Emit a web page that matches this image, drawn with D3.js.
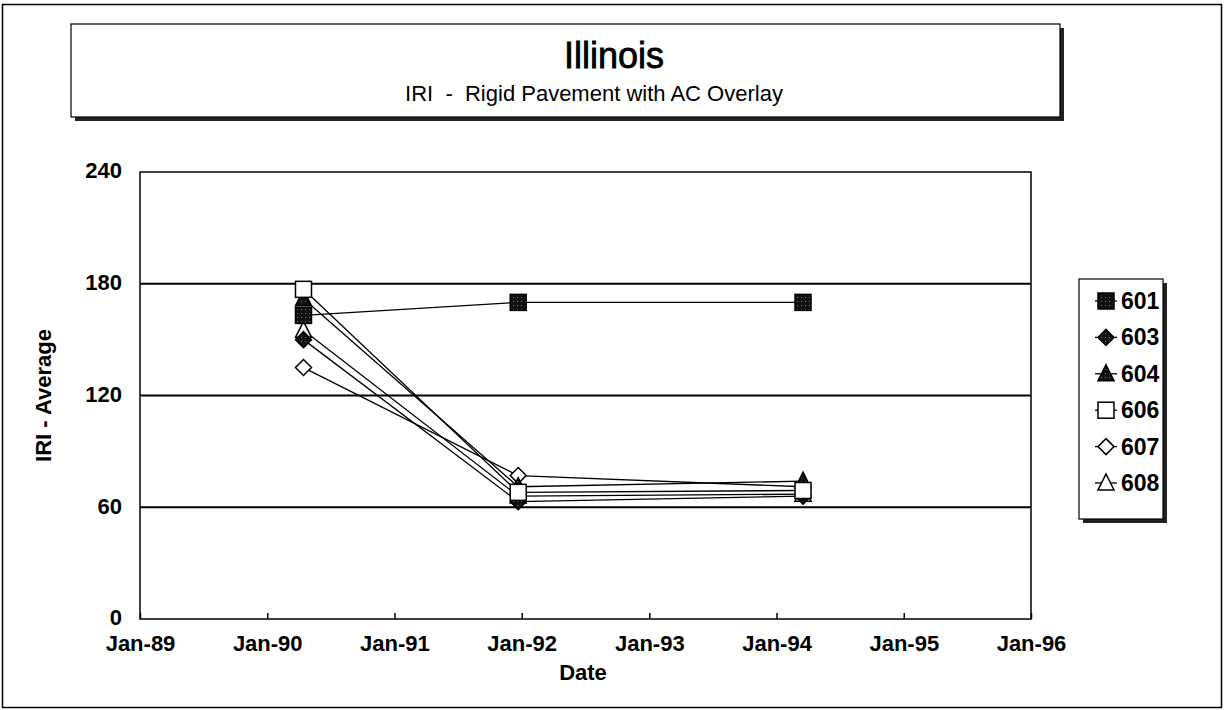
<!DOCTYPE html>
<html><head><meta charset="utf-8">
<script src="https://cdn.jsdelivr.net/npm/d3@7"></script>
<style>body{margin:0;background:#fff}svg{display:block;font-family:"Liberation Sans",Arial,sans-serif}</style>
</head><body><svg id="c" width="1224" height="710"></svg>
<script>
const title = "Illinois";
const subtitle = "IRI  -  Rigid Pavement with AC Overlay";
const xLabel = "Date";
const yLabel = "IRI - Average";
const dates = ["1990-04-15", "1991-12-22", "1994-03-18"];
const seriesNames = ["601", "603", "604", "606", "607", "608"];
const s601 = [163, 170, 170];
const s603 = [150, 63, 66];
const s604 = [172, 71, 74];
const s606 = [177, 68, 69];
const s607 = [135, 77, 71];
const s608 = [155, 66, 67];
const symbols = ["fsquare", "fdiamond", "ftriangle", "osquare", "odiamond", "otriangle"];
const yTicks = [0, 60, 120, 180, 240];
const xTicks = ["1989-01-01","1990-01-01","1991-01-01","1992-01-01","1993-01-01","1994-01-01","1995-01-01","1996-01-01"];

const seriesVals = [s601, s603, s604, s606, s607, s608];
const parse = d3.timeParse("%Y-%m-%d");
const svg = d3.select("#c");

const defs = svg.append("defs");
const pat = defs.append("pattern").attr("id","dots").attr("width",4).attr("height",4).attr("patternUnits","userSpaceOnUse");
pat.append("rect").attr("width",4).attr("height",4).attr("fill","#111");
pat.append("rect").attr("x",1).attr("y",1).attr("width",1).attr("height",1).attr("fill","#777");

svg.append("rect").attr("x",2.5).attr("y",4.5).attr("width",1219).attr("height",703)
  .attr("fill","none").attr("stroke","#000").attr("stroke-width",1.5);

const tb = {x:71, y:24, w:989, h:93};
svg.append("rect").attr("x",tb.x+4).attr("y",tb.y+4).attr("width",tb.w).attr("height",tb.h).attr("fill","#222");
svg.append("rect").attr("x",tb.x).attr("y",tb.y).attr("width",tb.w).attr("height",tb.h).attr("fill","#fff").attr("stroke","#000").attr("stroke-width",1.2);
svg.append("text").attr("x",614).attr("y",68).attr("text-anchor","middle").attr("font-size",36)
  .attr("stroke","#000").attr("stroke-width",0.8).text(title);
svg.append("text").attr("x",594).attr("y",101).attr("text-anchor","middle").attr("font-size",22).style("white-space","pre").text(subtitle);

const L=140, R=1031, T=172, B=619;
const x = d3.scaleTime().domain([parse(xTicks[0]), parse(xTicks[xTicks.length-1])]).range([L,R]);
const y = d3.scaleLinear().domain([0,240]).range([B,T]);

const g = svg.append("g");
g.selectAll("line.grid").data(yTicks.filter(v=>v>0 && v<240)).join("line")
  .attr("x1",L).attr("x2",R).attr("y1",d=>y(d)).attr("y2",d=>y(d)).attr("stroke","#000").attr("stroke-width",2);
g.append("rect").attr("x",L).attr("y",T).attr("width",R-L).attr("height",B-T).attr("fill","none").attr("stroke","#000").attr("stroke-width",1.5);

const xAxis = d3.axisBottom(x).tickValues(xTicks.map(parse)).tickFormat(d3.timeFormat("%b-%y")).tickSize(-6).tickPadding(16);
const xa = svg.append("g").attr("transform",`translate(0,${B})`).call(xAxis);
xa.select(".domain").remove();
xa.selectAll("line").attr("stroke","#000").attr("stroke-width",1.5);
xa.selectAll("text").attr("font-size",22).attr("font-weight","bold").attr("fill","#000").attr("font-family","Liberation Sans, Arial, sans-serif");
const yAxis = d3.axisLeft(y).tickValues(yTicks).tickSize(0).tickPadding(18);
const ya = svg.append("g").attr("transform",`translate(${L},0)`).call(yAxis);
ya.select(".domain").remove();
ya.selectAll("text").attr("font-size",22).attr("font-weight","bold").attr("fill","#000").attr("dy","0.27em").attr("font-family","Liberation Sans, Arial, sans-serif");

svg.append("text").attr("x",583).attr("y",680).attr("text-anchor","middle").attr("font-size",22).attr("font-weight","bold").text(xLabel);
svg.append("text").attr("transform",`translate(51,${(T+B)/2}) rotate(-90)`).attr("text-anchor","middle").attr("font-size",22).attr("font-weight","bold").text(yLabel);

function marker(sel, type, cx, cy){
  const s = 8;
  let shape;
  if(type.endsWith("square")) shape = sel.append("rect").attr("x",cx-s).attr("y",cy-s).attr("width",2*s).attr("height",2*s);
  else if(type.endsWith("diamond")) shape = sel.append("path").attr("d",`M${cx},${cy-s}L${cx+s},${cy}L${cx},${cy+s}L${cx-s},${cy}Z`);
  else shape = sel.append("path").attr("d",`M${cx},${cy-s-1}L${cx+s},${cy+s-1}L${cx-s},${cy+s-1}Z`);
  const filled = type.startsWith("f");
  shape.attr("fill", filled ? "url(#dots)" : "#fff").attr("stroke","#000").attr("stroke-width",1.5);
}

const line = d3.line().x(d=>x(d.date)).y(d=>y(d.v));
const order = [4,5,1,2,0,3];
seriesVals.forEach((vals,i)=>{
  const pts = vals.map((v,j)=>({date:parse(dates[j]), v}));
  g.append("path").datum(pts).attr("d",line).attr("fill","none").attr("stroke","#000").attr("stroke-width",1.3);
});
order.forEach(i=>{
  seriesVals[i].forEach((v,j)=>marker(g, symbols[i], x(parse(dates[j])), y(v)));
});

const lg = {x:1079, y:279, w:84, h:240};
svg.append("rect").attr("x",lg.x+4).attr("y",lg.y+4).attr("width",lg.w).attr("height",lg.h).attr("fill","#222");
svg.append("rect").attr("x",lg.x).attr("y",lg.y).attr("width",lg.w).attr("height",lg.h).attr("fill","#fff").attr("stroke","#000").attr("stroke-width",1.2);
seriesNames.forEach((n,i)=>{
  const cy = 301 + i*36.4;
  const lgG = svg.append("g");
  lgG.append("line").attr("x1",1095).attr("x2",1117).attr("y1",cy).attr("y2",cy).attr("stroke","#000").attr("stroke-width",1.3);
  marker(lgG, symbols[i], 1106, cy);
  lgG.append("text").attr("x",1121).attr("y",cy+8).attr("font-size",23).attr("font-weight","bold").text(n);
});
</script></body></html>
